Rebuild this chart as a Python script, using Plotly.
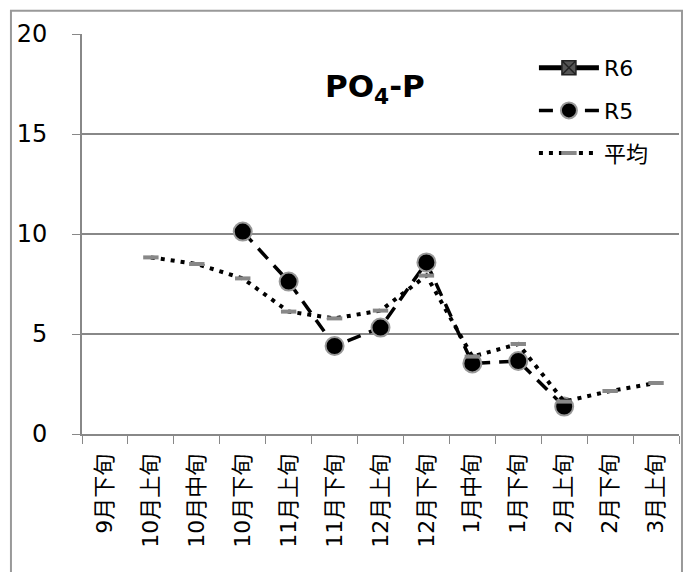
import plotly.graph_objects as go

categories = ['9月下旬', '10月上旬', '10月中旬', '10月下旬', '11月上旬', '11月下旬',
              '12月上旬', '12月下旬', '1月中旬', '1月下旬', '2月上旬', '2月下旬', '3月上旬']
r6 = [None] * 13
r5 = [None, None, None, 10.12, 7.62, 4.4, 5.32, 8.58, 3.53, 3.65, 1.37, None, None]
avg = [None, 8.83, 8.5, 7.78, 6.12, 5.78, 6.17, 7.92, 3.87, 4.5, 1.62, 2.15, 2.55]

font_family = 'DejaVu Sans, Noto Sans CJK JP'

fig = go.Figure()
fig.add_trace(go.Scatter(
    x=categories, y=r6, name='R6', mode='lines+markers', legendgroup='a',
    line=dict(color='black', width=5),
    marker=dict(symbol='square-x', size=14, color='#555555',
                line=dict(color='#222222', width=1.5))
))
fig.add_trace(go.Scatter(
    x=categories, y=r5, name='R5', mode='lines+markers', legendgroup='b',
    line=dict(color='black', width=3.5, dash='14px,9px'),
    marker=dict(symbol='circle', size=18, color='black',
                line=dict(color='#999999', width=2))
))
fig.add_trace(go.Scatter(
    x=categories, y=avg, name='平均', mode='lines+markers', legendgroup='c',
    line=dict(color='black', width=4, dash='4px,6px'),
    marker=dict(symbol='line-ew', size=11, color='#888888',
                line=dict(color='#888888', width=4))
))

fig.add_annotation(
    text='<b>PO<sub>4</sub>-P</b>', xref='paper', yref='paper',
    x=0.49, y=0.92, showarrow=False,
    font=dict(size=31, color='black', family=font_family)
)

# outer frame of the chart area
fig.add_shape(type='rect', xref='paper', yref='paper',
              x0=-0.119, x1=1.005, y0=-0.6, y1=1.058,
              line=dict(color='#999999', width=2))

fig.update_layout(
    width=684, height=564,
    margin=dict(l=74, r=13, t=26, b=138),
    plot_bgcolor='white', paper_bgcolor='white',
    font=dict(family=font_family, color='black', size=22),
    showlegend=True,
    legend=dict(x=0.757, y=0.9675, xanchor='left', yanchor='top',
                bgcolor='rgba(0,0,0,0)', font=dict(size=22),
                tracegroupgap=11, itemwidth=60),
    xaxis=dict(
        type='category', tickangle=-90, tickson='boundaries',
        ticks='outside', ticklen=8, tickcolor='#888888',
        showline=True, linecolor='#888888', linewidth=2,
        showgrid=False, tickfont=dict(size=22), range=[-0.5, 12.5],
        ticklabelstandoff=9, automargin=False
    ),
    yaxis=dict(
        range=[0, 20], dtick=5, ticks='outside', ticklen=8,
        tickcolor='#888888', showline=True, linecolor='#888888', linewidth=2,
        gridcolor='#888888', gridwidth=2, zeroline=False,
        tickfont=dict(size=24), ticklabelstandoff=20, automargin=False
    )
)

fig.write_html('out.html')
